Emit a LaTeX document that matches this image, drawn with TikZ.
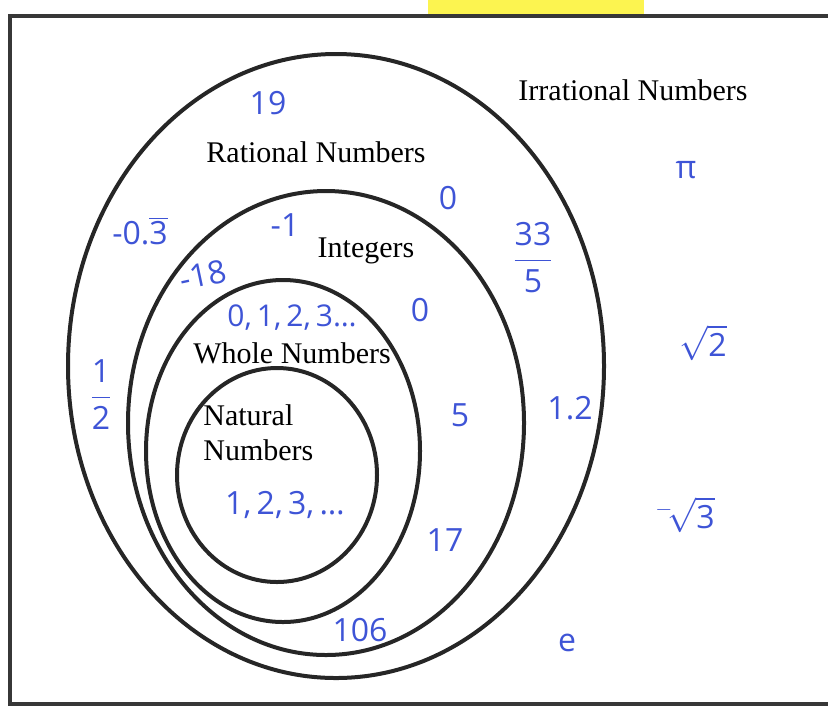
\documentclass[tikz,border=0pt]{standalone}
\usepackage{fontspec}
\setmainfont{Liberation Serif}
\newfontfamily\handfont{Open Sans}
\usetikzlibrary{positioning}
\definecolor{inkblue}{RGB}{62,84,214}
\definecolor{framegray}{RGB}{55,55,55}
\definecolor{marker}{RGB}{252,244,80}

\begin{document}
\begin{tikzpicture}[x=0.5pt, y=-0.5pt,
    ring/.style={draw=black!85, line width=2pt},
    setname/.style={font=\fontsize{15}{17.5}\selectfont, inner sep=0pt},
    hand/.style={text=inkblue, font=\handfont\fontsize{16}{18}\selectfont, inner sep=0pt}
  ]
    \useasboundingbox (0,0) rectangle (828,708);
    \fill[marker] (428,0) rectangle (644,14);
    \draw[framegray, line width=2pt] (10,16) rectangle (870,704);

    % the four sets
    \draw[ring] (336,366) ellipse [x radius=268, y radius=312];
    \draw[ring] (326,423) ellipse [x radius=198, y radius=232];
    \draw[ring] (283,451) ellipse [x radius=137, y radius=171];
    \draw[ring] (277,475) ellipse [x radius=100, y radius=107];

    \node[setname] (irr) at (633,90) {Irrational Numbers};
    \node[setname] (rat) at (316,152) {Rational Numbers};
    \node[setname] (int) at (366,251) {Integers};
    \node[setname] (whole) at (292,353) {Whole Numbers};
    \node[setname, align=left, anchor=north west] (nat) at (203,404) {Natural\\Numbers};

    % handwritten members
    \node[hand] (n19) at (268,103) {19};
    \node[hand] (zeroA) at (448,198) {0};
    \node[hand] (rep) at (140,231) {-0.$\overline{\hbox{3}}$};
    \node[hand] (m1) at (285,225) {-1};
    \node[hand] (frac) at (533,258) {$\displaystyle{\hbox{33}\above0.8pt\hbox{5}}$};
    \node[hand, rotate=12] (m18) at (203,275) {-18};
    \node[hand, font=\handfont\fontsize{15}{18}\selectfont] (wlist) at (292,318) {0,\,1,\,2,\,3\ldots};
    \node[hand] (zeroB) at (420,310) {0};
    \node[hand] (half) at (101,395) {$\displaystyle{\hbox{1}\above0.8pt\hbox{2}}$};
    \node[hand] (pi) at (686,170) {π};
    \node[hand] (r2) at (703,343) {$\sqrt{\hbox{2}}$};
    \node[hand] (five) at (460,415) {5};
    \node[hand] (onept) at (570,408) {1.2};
    \node[hand] (r3) at (685,515) {$^-\!\sqrt{\hbox{3}}$};
    \node[hand] (nlist) at (285,505) {1,\,2,\,3,\,\ldots};
    \node[hand] (n17) at (445,540) {17};
    \node[hand] (n106) at (360,630) {106};
    \node[hand] (e) at (567,643) {e};
\end{tikzpicture}
\end{document}
